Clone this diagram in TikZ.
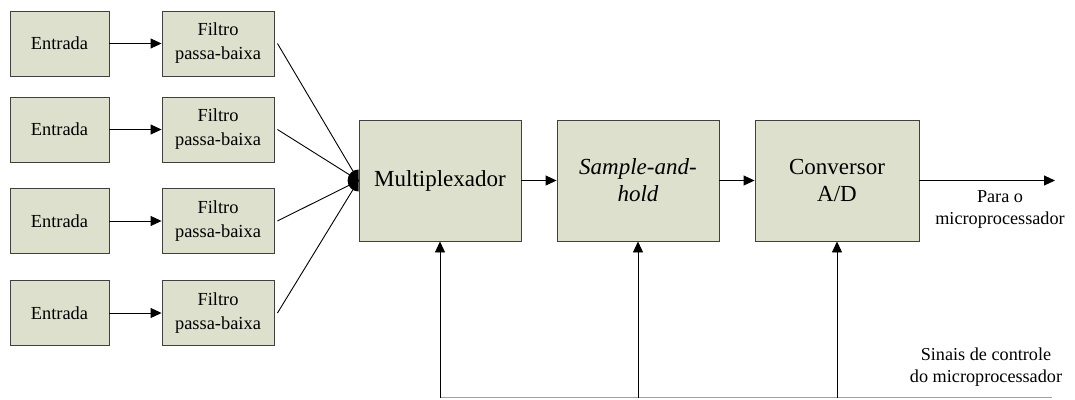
\documentclass[tikz,border=0pt]{standalone}
\usepackage{fontspec}
\setmainfont{Liberation Serif}
\usetikzlibrary{arrows.meta}
\definecolor{boxfill}{RGB}{221,224,204}
\definecolor{boxline}{RGB}{64,64,64}
\definecolor{busline}{RGB}{160,160,160}

\begin{document}
\begin{tikzpicture}[x=1pt,y=-1pt,line width=0.9pt,>={Triangle[length=11pt,width=10pt]}]
\useasboundingbox (0,0) rectangle (1075,399);

% Inputs and their low-pass filters, one row per channel
\tikzstyle{every node}=[draw=boxline,fill=boxfill,shape=rectangle,minimum height=65pt,anchor=center,align=center,font=\fontsize{18.4}{24}\selectfont];
\foreach \y [count=\idx] in {43.5,129.5,221,313}
  \node[minimum width=99pt] (e\idx) at (59.5,\y){Entrada};
\foreach \y [count=\idx] in {43.5,129.5,221,313}
  \node[minimum width=112pt] (f\idx) at (218,\y){Filtro\\passa-baixa};

\foreach \x in {1,...,4}
  \draw[->] (e\x) -- (f\x);

% Main chain
\tikzstyle{every node}=[draw=boxline,fill=boxfill,shape=rectangle,minimum width=162pt,minimum height=121pt,anchor=center,align=center,font=\fontsize{23}{27}\selectfont];
\node (mx) at (440,180.5){Multiplexador};
\node (sh) at (638,180.5){\textit{Sample-and-}\\\textit{hold}};
\node[minimum width=164pt] (ad) at (837,180.5){Conversor\\A/D};

% All filter outputs meet at the multiplexer input
\foreach \x in {1,...,4}
  \draw ([xshift=3pt]f\x.east) -- (mx.west);
\fill (mx.west) -- ++(0,11) arc[start angle=90,end angle=270,radius=11] -- cycle;

\coordinate (out) at (1055,180.5);
\draw[->] (mx) -- (sh);
\draw[->] (sh) -- (ad);
\draw[->] (ad) -- (out);

% Control bus from the microprocessor
\coordinate (bus) at (1052,397.5);
\draw[busline] (mx.south |- bus) -- (bus);
\draw[->] (mx.south |- bus) -- (mx.south);
\draw[->] (sh.south |- bus) -- (sh.south);
\draw[->] (ad.south |- bus) -- (ad.south);

\tikzstyle{every node}=[anchor=center,align=center,font=\fontsize{18.2}{22}\selectfont];
\node (lout) at (1000,209){Para o\\microprocessador};
\node (lbus) at (986,367){Sinais de controle\\do microprocessador};

\end{tikzpicture}
\end{document}
